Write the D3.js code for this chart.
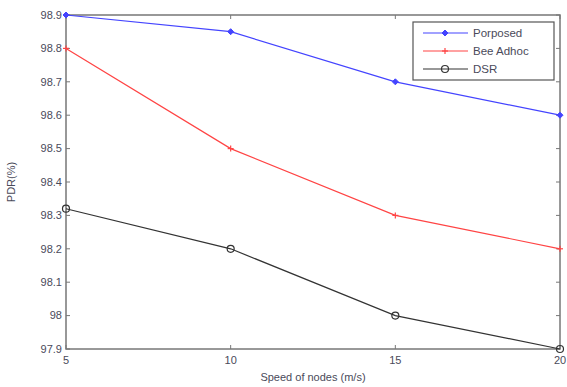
<!DOCTYPE html>
<html>
<head>
<meta charset="utf-8">
<script src="https://cdn.jsdelivr.net/npm/d3@7"></script>
<style>
  body { margin: 0; background: #fff; }
  text { font-family: "Liberation Sans", Arial, sans-serif; }
</style>
</head>
<body>
<div id="chart"></div>
<script>
// speed of nodes (m/s)
let speeds = [5, 10, 15, 20];
let proposed = [98.9, 98.85, 98.7, 98.6];
let beeAdhoc = [98.8, 98.5, 98.3, 98.2];
let dsr = [98.32, 98.2, 98.0, 97.9];
let yTicks = [97.9, 98, 98.1, 98.2, 98.3, 98.4, 98.5, 98.6, 98.7, 98.8, 98.9];
let xTicks = [5, 10, 15, 20];

let seriesNames = ["Porposed", "Bee Adhoc", "DSR"];
let seriesColors = ["#4444ff", "#ff4444", "#333333"];

let width = 567, height = 387;
let margin = { top: 15, right: 7, bottom: 38, left: 66 };

let svg = d3.select("#chart").append("svg")
  .attr("width", width).attr("height", height);

let x = d3.scaleLinear().domain([5, 20]).range([margin.left, width - margin.right]);
let y = d3.scaleLinear().domain([97.9, 98.9]).range([height - margin.bottom, margin.top]);

let axisColor = "#777";
let tickLen = 4;

// box
svg.append("rect")
  .attr("x", x(5)).attr("y", y(98.9))
  .attr("width", x(20) - x(5)).attr("height", y(97.9) - y(98.9))
  .attr("fill", "none").attr("stroke", axisColor).attr("stroke-width", 1.5);

// inward ticks on all sides
let tickG = svg.append("g").attr("stroke", axisColor).attr("stroke-width", 1);
yTicks.forEach(t => {
  tickG.append("line").attr("x1", x(5)).attr("x2", x(5) + tickLen).attr("y1", y(t)).attr("y2", y(t));
  tickG.append("line").attr("x1", x(20)).attr("x2", x(20) - tickLen).attr("y1", y(t)).attr("y2", y(t));
});
xTicks.forEach(t => {
  tickG.append("line").attr("x1", x(t)).attr("x2", x(t)).attr("y1", y(97.9)).attr("y2", y(97.9) - tickLen);
  tickG.append("line").attr("x1", x(t)).attr("x2", x(t)).attr("y1", y(98.9)).attr("y2", y(98.9) + tickLen);
});

// tick labels
let fmtY = d => d3.format(".1f")(d).replace(/\.0$/, "");
svg.append("g").selectAll("text").data(yTicks).join("text")
  .attr("x", x(5) - 4).attr("y", d => y(d)).attr("dy", "0.35em")
  .attr("text-anchor", "end").attr("font-size", 11).attr("fill", "#4a4a5a")
  .text(fmtY);
svg.append("g").selectAll("text").data(xTicks).join("text")
  .attr("x", d => x(d)).attr("y", y(97.9) + 15)
  .attr("text-anchor", "middle").attr("font-size", 11).attr("fill", "#4a4a5a")
  .text(d => d);

// axis titles
svg.append("text")
  .attr("x", (x(5) + x(20)) / 2).attr("y", height - 6)
  .attr("text-anchor", "middle").attr("font-size", 11).attr("fill", "#4a4a5a")
  .text("Speed of nodes (m/s)");
svg.append("text")
  .attr("transform", `translate(15,${(y(97.9) + y(98.9)) / 2}) rotate(-90)`)
  .attr("text-anchor", "middle").attr("font-size", 11).attr("fill", "#4a4a5a")
  .text("PDR(%)");

// lines
let allSeries = [proposed, beeAdhoc, dsr];
let line = d3.line().x((d, i) => x(speeds[i])).y(d => y(d));

function drawMarker(g, kind, color, cx, cy) {
  if (kind === 0) {
    g.append("path")
      .attr("d", `M${cx - 3},${cy}L${cx},${cy - 3}L${cx + 3},${cy}L${cx},${cy + 3}Z`)
      .attr("fill", color).attr("stroke", color);
  } else if (kind === 1) {
    g.append("line").attr("x1", cx - 3).attr("x2", cx + 3).attr("y1", cy).attr("y2", cy)
      .attr("stroke", color).attr("stroke-width", 1.2);
    g.append("line").attr("x1", cx).attr("x2", cx).attr("y1", cy - 3).attr("y2", cy + 3)
      .attr("stroke", color).attr("stroke-width", 1.2);
  } else {
    g.append("circle").attr("cx", cx).attr("cy", cy).attr("r", 3.5)
      .attr("fill", "none").attr("stroke", color).attr("stroke-width", 1.2);
  }
}

allSeries.forEach((s, k) => {
  let g = svg.append("g");
  g.append("path").datum(s).attr("d", line)
    .attr("fill", "none").attr("stroke", seriesColors[k]).attr("stroke-width", 1.2);
  s.forEach((v, i) => drawMarker(g, k, seriesColors[k], x(speeds[i]), y(v)));
});

// legend
let lg = svg.append("g");
let lx = 413, ly = 22, lw = 141, lh = 58;
lg.append("rect").attr("x", lx).attr("y", ly).attr("width", lw).attr("height", lh)
  .attr("fill", "#fff").attr("stroke", "#555").attr("stroke-width", 1.2);
seriesNames.forEach((name, k) => {
  let yy = ly + 11 + k * 18;
  lg.append("line").attr("x1", lx + 10).attr("x2", lx + 55).attr("y1", yy).attr("y2", yy)
    .attr("stroke", seriesColors[k]).attr("stroke-width", 1.2);
  drawMarker(lg, k, seriesColors[k], lx + 32, yy);
  lg.append("text").attr("x", lx + 60).attr("y", yy).attr("dy", "0.35em")
    .attr("font-size", 11.5).attr("fill", "#4a4a5a").text(name);
});
</script>
</body>
</html>
